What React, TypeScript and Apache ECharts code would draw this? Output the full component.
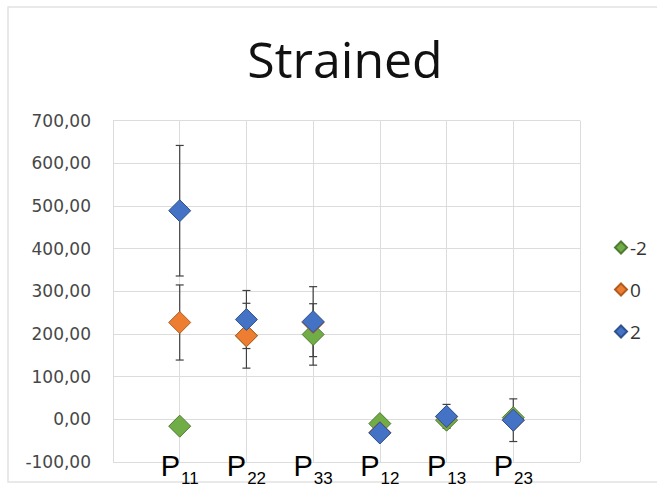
import React, { useEffect, useRef } from "react";
import * as echarts from "echarts";

const subscripts = ["11", "22", "33", "12", "13", "23"];
const positions = [1, 2, 3, 4, 5, 6];
const seriesNames = ["-2", "0", "2"];
const valuesNeg2 = [-16, 196, 199, -10, -2, 4];
const valuesZero = [227, 196, 227, -31, 6, -2];
const valuesPos2 = [489, 234, 229, -32, 7, -2];
const errNeg2 = [0, 0, 72, 0, 0, 0];
const errZero = [88, 76, 0, 0, 0, 0];
const errPos2 = [153, 68, 82, 0, 28, 50];
const yTicks = [-100, 0, 100, 200, 300, 400, 500, 600, 700];

const colors = ["#70AD47", "#ED7D31", "#4472C4"];
const borders = ["#4E7A31", "#B25B1F", "#2F528F"];

export default function App() {
  const ref = useRef<HTMLDivElement>(null);
  useEffect(() => {
    document.body.style.margin = "0";
    const chart = echarts.init(ref.current!, null, { renderer: "svg" });
    const allValues = [valuesNeg2, valuesZero, valuesPos2];
    const allErr = [errNeg2, errZero, errPos2];
    const errData: number[][] = [];
    allValues.forEach((vals, s) => {
      vals.forEach((v, i) => {
        if (allErr[s][i] > 0) {
          errData.push([positions[i], v - allErr[s][i], v + allErr[s][i], s]);
        }
      });
    });
    chart.setOption({
      animation: false,
      backgroundColor: "#ffffff",
      title: {
        text: "Strained",
        left: 340,
        textAlign: "center",
        top: 29,
        textStyle: { fontSize: 50, fontWeight: "normal", fontFamily: "Open Sans", color: "#111" },
      },
      graphic: [
        {
          type: "rect",
          shape: { x: 8, y: 7, width: 700, height: 475 },
          style: { fill: "none", stroke: "#e2e2e2", lineWidth: 1.5 },
          silent: true,
        },
      ],
      legend: {
        orient: "vertical",
        left: 609,
        top: 233,
        itemWidth: 12,
        itemHeight: 12,
        itemGap: 23,
        data: seriesNames,
        textStyle: { fontSize: 19, color: "#333", fontFamily: "Open Sans", padding: [0, 0, 0, -2] },
      },
      grid: { left: 113, right: 77, top: 120.7, bottom: 25 },
      xAxis: {
        type: "value",
        min: 0,
        max: 7,
        interval: 1,
        axisLine: { show: false },
        axisTick: { show: false },
        splitLine: { show: true, lineStyle: { color: "#dcdcdc" } },
        axisLabel: {
          margin: -11,
          formatter: (v: number) => {
            const idx = positions.indexOf(v);
            return idx >= 0 ? "{p|P}{s|" + subscripts[idx] + "}" : "";
          },
          rich: {
            p: { fontSize: 29, lineHeight: 30, verticalAlign: "top", fontFamily: "Liberation Sans", color: "#000" },
            s: {
              fontSize: 17,
              lineHeight: 17,
              verticalAlign: "top",
              padding: [19, 0, 0, 1],
              fontFamily: "Liberation Sans",
              color: "#000",
            },
          },
        },
      },
      yAxis: {
        type: "value",
        min: yTicks[0],
        max: yTicks[yTicks.length - 1],
        interval: 100,
        axisLine: { show: false },
        axisTick: { show: false },
        splitLine: { show: true, lineStyle: { color: "#dcdcdc" } },
        axisLabel: {
          margin: 22,
          fontSize: 17,
          fontFamily: "DejaVu Sans",
          color: "#474747",
          formatter: (v: number) => v.toFixed(2).replace(".", ","),
        },
      },
      series: [
        {
          type: "custom",
          name: "err",
          z: 1,
          silent: true,
          data: errData,
          encode: { x: 0, y: [1, 2] },
          renderItem: (params: any, api: any) => {
            const x = api.value(0);
            const lo = api.coord([x, api.value(1)]);
            const hi = api.coord([x, api.value(2)]);
            const cap = 4;
            const style = { stroke: "#404040", lineWidth: 1.2 };
            return {
              type: "group",
              children: [
                { type: "line", shape: { x1: lo[0], y1: lo[1], x2: hi[0], y2: hi[1] }, style },
                { type: "line", shape: { x1: lo[0] - cap, y1: lo[1], x2: lo[0] + cap, y2: lo[1] }, style },
                { type: "line", shape: { x1: hi[0] - cap, y1: hi[1], x2: hi[0] + cap, y2: hi[1] }, style },
              ],
            };
          },
        },
        ...seriesNames.map((name, s) => ({
          type: "scatter",
          name,
          z: 2 + s,
          symbol: "diamond",
          symbolSize: 22,
          itemStyle: { color: colors[s], borderColor: borders[s], borderWidth: 1, opacity: 1 },
          data: allValues[s].map((v, i) => [positions[i], v]),
        })),
      ],
    });
    return () => chart.dispose();
  }, []);
  return <div ref={ref} style={{ width: 657, height: 487 }} />;
}
